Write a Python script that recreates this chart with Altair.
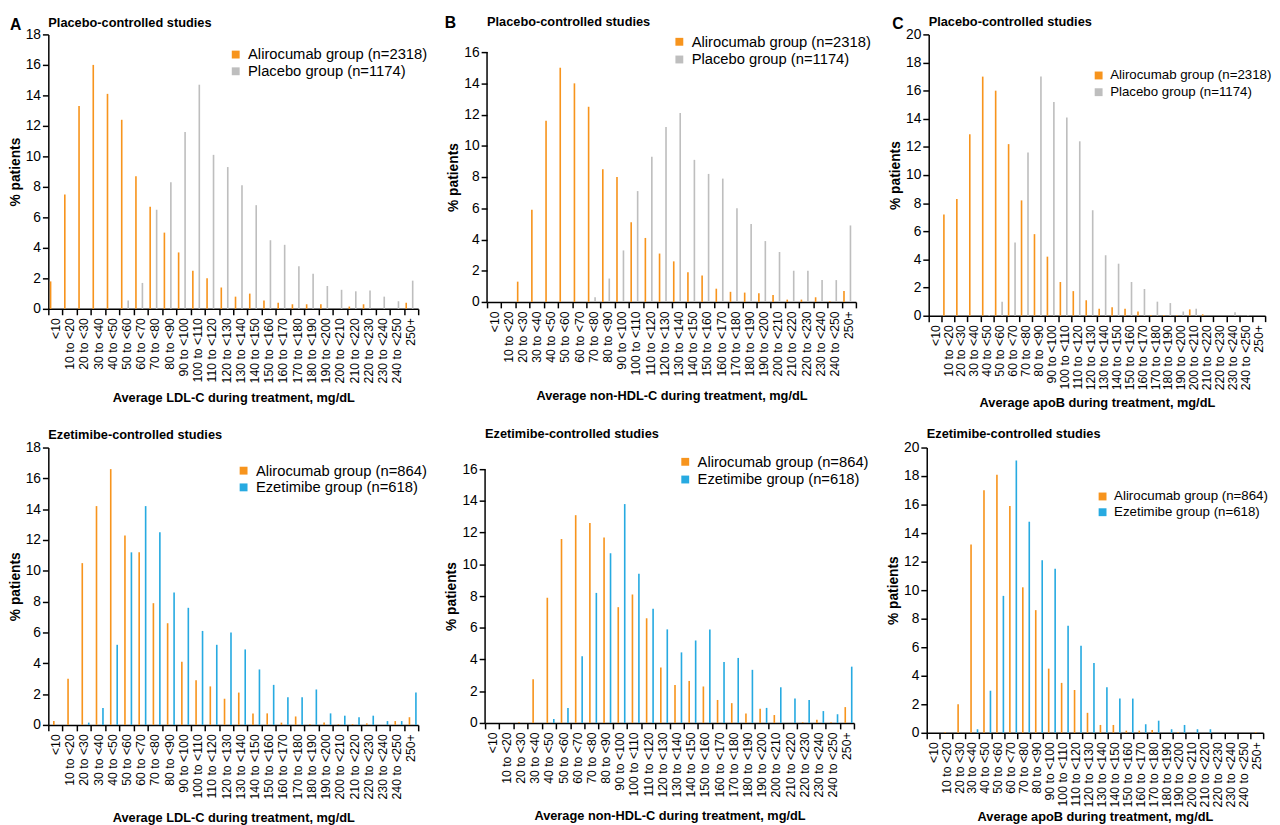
import altair as alt
import pandas as pd

cats = ["<10", "10 to <20", "20 to <30", "30 to <40", "40 to <50", "50 to <60",
        "60 to <70", "70 to <80", "80 to <90", "90 to <100", "100 to <110",
        "110 to <120", "120 to <130", "130 to <140", "140 to <150", "150 to <160",
        "160 to <170", "170 to <180", "180 to <190", "190 to <200", "200 to <210",
        "210 to <220", "220 to <230", "230 to <240", "240 to <250", "250+"]

# Panel A top: LDL-C, placebo-controlled
ldl_pc_ali = [1.8, 7.5, 13.3, 16.0, 14.1, 12.4, 8.7, 6.7, 5.0, 3.7, 2.5, 2.0, 1.4,
              0.8, 1.0, 0.55, 0.4, 0.3, 0.3, 0.3, 0, 0.15, 0.3, 0, 0, 0.4]
ldl_pc_pbo = [0, 0, 0, 0, 0, 0.55, 1.7, 6.5, 8.3, 11.6, 14.7, 10.1, 9.3,
              8.1, 6.8, 4.5, 4.2, 2.8, 2.3, 1.5, 1.25, 1.15, 1.2, 0.8, 0.5, 1.85]
# Panel B top: non-HDL-C, placebo-controlled
nhdl_pc_ali = [0, 0, 1.3, 5.9, 11.6, 15.0, 14.0, 12.5, 8.5, 8.0, 5.1, 4.1, 3.1,
               2.6, 1.9, 1.7, 0.85, 0.65, 0.6, 0.55, 0.45, 0.15, 0.15, 0.3, 0.05, 0.7]
nhdl_pc_pbo = [0, 0, 0, 0, 0, 0, 0, 0.3, 1.5, 3.3, 7.1, 9.3, 11.2,
               12.1, 9.1, 8.2, 7.9, 6.0, 5.0, 3.9, 3.2, 2.0, 2.0, 1.4, 1.4, 4.9]
# Panel C top: apoB, placebo-controlled
apob_pc_ali = [0, 7.2, 8.3, 12.9, 17.0, 16.0, 12.2, 8.2, 5.8, 4.2, 2.4, 1.75, 1.1,
               0.5, 0.6, 0.5, 0.3, 0.05, 0.05, 0.05, 0.45, 0.1, 0, 0, 0, 0]
apob_pc_pbo = [0, 0, 0, 0, 0.05, 1.0, 5.2, 11.6, 17.0, 15.2, 14.1, 12.4, 7.5,
               4.3, 3.7, 2.4, 1.9, 1.0, 0.9, 0.3, 0.5, 0, 0, 0.25, 0.05, 0]
# Panel A bottom: LDL-C, ezetimibe-controlled
ldl_ec_ali = [0.25, 3.0, 10.5, 14.2, 16.6, 12.3, 11.2, 7.9, 6.6, 4.1, 2.9, 2.5, 1.7,
              2.1, 0.75, 0.75, 0.15, 0.55, 0.05, 0.15, 0.05, 0.05, 0.1, 0, 0.25, 0.5]
ldl_ec_eze = [0, 0, 0.15, 1.1, 5.2, 11.2, 14.2, 12.5, 8.6, 7.6, 6.1, 5.2, 6.0,
              4.9, 3.6, 2.6, 1.8, 1.8, 2.3, 0.75, 0.6, 0.5, 0.6, 0.25, 0.25, 2.1]
# Panel B bottom: non-HDL-C, ezetimibe-controlled
nhdl_ec_ali = [0, 0, 0.05, 2.75, 7.9, 11.6, 13.1, 12.6, 11.7, 7.3, 8.1, 6.6, 3.5,
               2.4, 2.65, 2.3, 1.45, 1.25, 0.6, 0.9, 0.5, 0, 0.05, 0.2, 0.05, 1.0]
nhdl_ec_eze = [0, 0, 0, 0, 0.25, 0.95, 4.2, 8.2, 10.7, 13.8, 9.4, 7.2, 5.9,
               4.45, 5.2, 5.9, 3.85, 4.1, 3.35, 0.95, 2.25, 1.55, 1.45, 0.75, 0.55, 3.55]
# Panel C bottom: apoB, ezetimibe-controlled
apob_ec_ali = [0, 0.05, 2.0, 13.2, 17.0, 18.1, 15.9, 10.2, 8.6, 4.5, 3.5, 3.0, 1.4,
               0.55, 0.55, 0.15, 0.15, 0.2, 0, 0.05, 0, 0, 0, 0, 0, 0.05]
apob_ec_eze = [0, 0, 0, 0.25, 2.95, 9.6, 19.1, 14.8, 12.1, 11.5, 7.5, 6.1, 4.9,
               3.2, 2.4, 2.4, 0.6, 0.85, 0.25, 0.55, 0.25, 0.25, 0, 0, 0, 0]

ALI_PC = "Alirocumab group (n=2318)"
PBO = "Placebo group (n=1174)"
ALI_EC = "Alirocumab group (n=864)"
EZE = "Ezetimibe group (n=618)"

FONT = "Liberation Sans"
ORANGE = "#F7941D"
GREY = "#BEBEBE"
BLUE = "#27AAE1"


def panel(ali, comp, ali_name, comp_name, comp_color, ytop, ydom, xtitle, title,
          width, height, title_y, legend_x, legend_y, legend_size,
          legend_row_pad, x_title_pad, spacer_y, letter=None, letter_x=0,
          letter_y=0, y_title_y=None):
    df = pd.DataFrame({
        "cat": cats * 2,
        "group": [ali_name] * len(cats) + [comp_name] * len(cats),
        "value": ali + comp,
    })
    extended = ydom > ytop
    yaxis_kw = dict(values=list(range(0, ytop + 1, 2)), labelFontSize=14,
                    tickSize=6, labelPadding=2, titlePadding=3, titleFontSize=14,
                    domain=not extended, labelOverlap=False)
    if y_title_y is not None:
        yaxis_kw["titleY"] = y_title_y
    yscale = alt.Scale(domain=[0, ydom], nice=False)
    bars = alt.Chart(df).mark_bar().encode(
        x=alt.X("cat:N", sort=cats, title=xtitle,
                scale=alt.Scale(paddingInner=0, paddingOuter=0),
                axis=alt.Axis(labelAngle=270, tickBand="extent", labelFontSize=12.5,
                              labelPadding=3, tickSize=6, titlePadding=x_title_pad,
                              titleFontSize=13, labelOverlap=False)),
        xOffset=alt.XOffset("group:N", sort=[ali_name, comp_name],
                            scale=alt.Scale(paddingInner=0.5, paddingOuter=0.45)),
        y=alt.Y("value:Q", title="% patients", scale=yscale,
                axis=alt.Axis(**yaxis_kw)),
        color=alt.Color("group:N",
                        scale=alt.Scale(domain=[ali_name, comp_name],
                                        range=[ORANGE, comp_color]),
                        legend=alt.Legend(orient="none", legendX=legend_x,
                                          legendY=legend_y, title=None,
                                          labelFont=FONT, labelFontSize=legend_size,
                                          labelColor="black", symbolType="square",
                                          symbolSize=64, symbolStrokeWidth=0,
                                          rowPadding=legend_row_pad, labelOffset=5,
                                          labelLimit=300, padding=0)),
    )
    one = pd.DataFrame({"k": [0]})
    layers = [bars]
    if extended:
        # y-axis line that stops at the top tick, like the original
        line_df = pd.DataFrame({"y0": [0], "y1": [ytop]})
        axis_line = alt.Chart(line_df).mark_rule(color="black", strokeWidth=1.5).encode(
            x=alt.value(0),
            y=alt.Y("y0:Q", title="% patients", scale=yscale,
                    axis=alt.Axis(**yaxis_kw)),
            y2="y1:Q")
        layers.append(axis_line)
    ttl = alt.Chart(one).mark_text(
        font=FONT, fontSize=13, fontWeight="bold", align="left",
        baseline="middle", color="black"
    ).encode(x=alt.value(0), y=alt.value(title_y), text=alt.value(title))
    layers.append(ttl)
    # invisible spacer so every panel in a row has the same top extent
    spacer = alt.Chart(one).mark_text(
        font=FONT, fontSize=4, baseline="top", opacity=0
    ).encode(x=alt.value(40), y=alt.value(spacer_y), text=alt.value("."))
    layers.append(spacer)
    if letter:
        lt = alt.Chart(one).mark_text(
            font=FONT, fontSize=16, fontWeight="bold", align="left",
            baseline="middle", color="black"
        ).encode(x=alt.value(letter_x), y=alt.value(letter_y), text=alt.value(letter))
        layers.append(lt)
    return alt.layer(*layers).properties(width=width, height=height)


A1 = panel(ldl_pc_ali, ldl_pc_pbo, ALI_PC, PBO, GREY, 18, 18,
           "Average LDL-C during treatment, mg/dL", "Placebo-controlled studies",
           376, 279, -12, 183, 13, 15, 1, 9, -19.5, "A", -39, -9)
B1 = panel(nhdl_pc_ali, nhdl_pc_pbo, ALI_PC, PBO, GREY, 16, 16 * 272 / 254,
           "Average non-HDL-C during treatment, mg/dL", "Placebo-controlled studies",
           375, 272, -13, 188, 0, 15, 2, 14, -19.5, "B", -43, -11.5, y_title_y=145)
C1 = panel(apob_pc_ali, apob_pc_pbo, ALI_PC, PBO, GREY, 20, 20,
           "Average apoB during treatment, mg/dL", "Placebo-controlled studies",
           342, 286, -13, 166, 35, 13.5, 2, 7, -19.5, "C", -37, -10)
A2 = panel(ldl_ec_ali, ldl_ec_eze, ALI_EC, EZE, BLUE, 18, 18,
           "Average LDL-C during treatment, mg/dL", "Ezetimibe-controlled studies",
           376, 282, -13, 191, 16, 15, 1, 13, -20.5)
B2 = panel(nhdl_ec_ali, nhdl_ec_eze, ALI_EC, EZE, BLUE, 16, 16 * 280 / 258,
           "Average non-HDL-C during treatment, mg/dL", "Ezetimibe-controlled studies",
           375, 280, -14, 196, 7, 15, 2, 13, -20.5, y_title_y=151)
C2 = panel(apob_ec_ali, apob_ec_eze, ALI_EC, EZE, BLUE, 20, 20,
           "Average apoB during treatment, mg/dL", "Ezetimibe-controlled studies",
           342, 290, -13.5, 172, 43, 13.5, 1, 4, -20.5)

chart = alt.concat(A1, B1, C1, A2, B2, C2, columns=3, align="none",
                   spacing={"row": 17, "column": 17}).resolve_scale(
    color="independent", x="independent", y="independent"
).properties(
    padding={"left": 0, "top": 0, "right": 0, "bottom": 0}
).configure_view(stroke=None).configure_axis(
    grid=False, domainColor="black", tickColor="black", labelColor="black",
    titleColor="black", labelFont=FONT, titleFont=FONT, domainWidth=1.5,
    tickWidth=1.5, titleFontWeight="bold"
)

chart.save("out.html", embed_options={"renderer": "svg", "actions": False})
